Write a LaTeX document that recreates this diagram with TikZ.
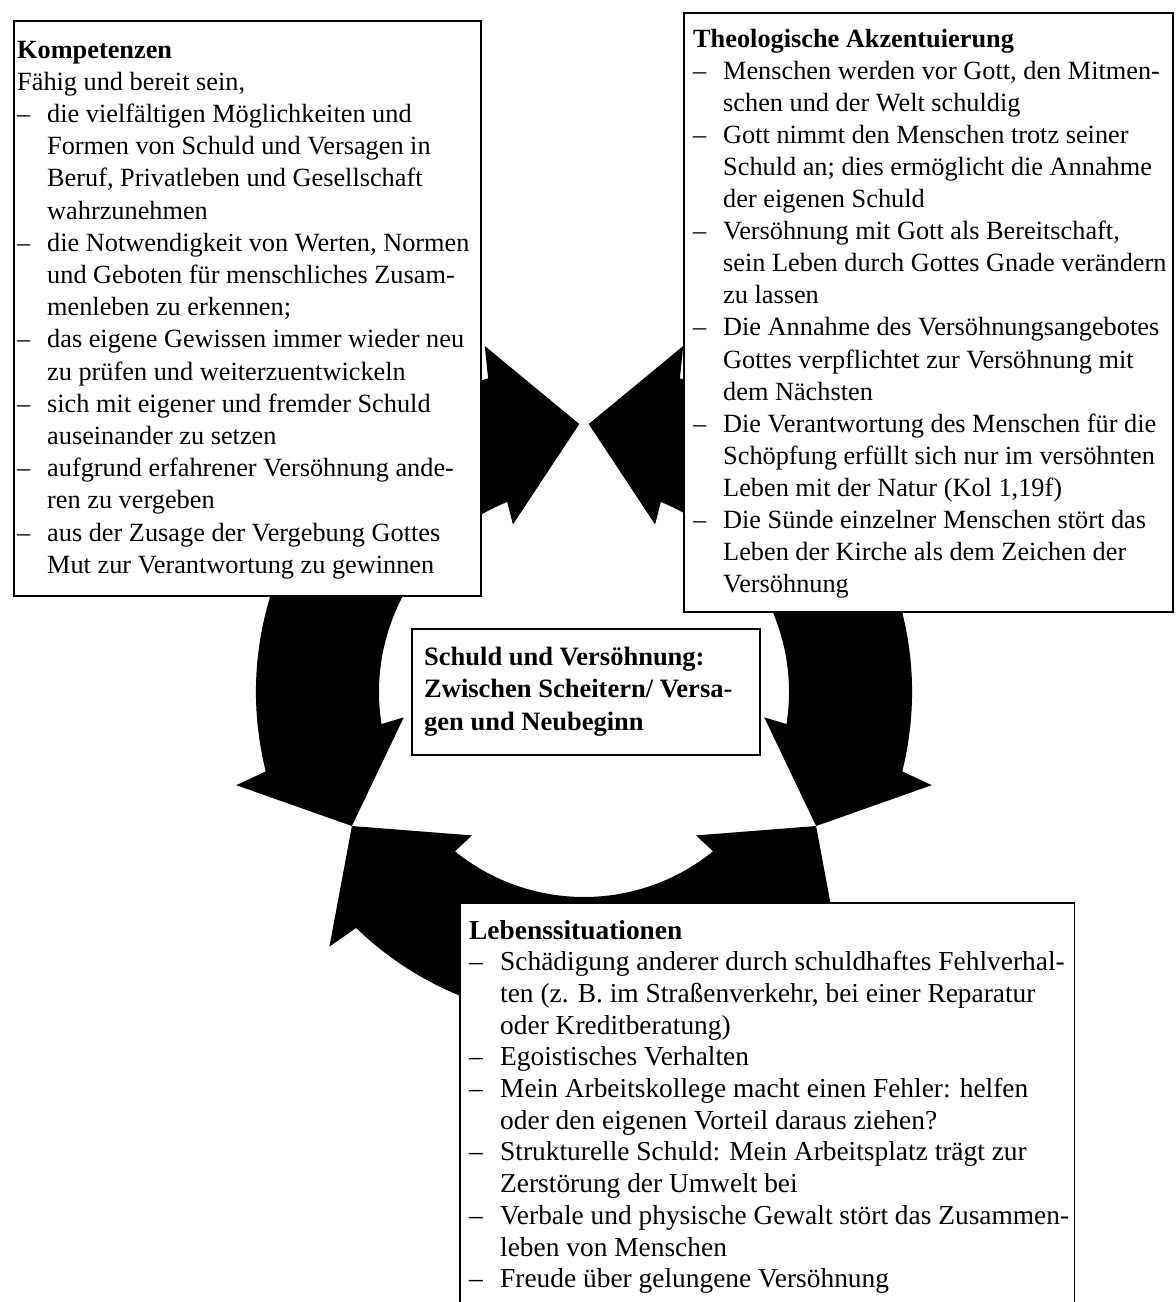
\documentclass[tikz,border=0pt]{standalone}
\usepackage{fontspec}
\setmainfont{Liberation Serif}
\newcommand\itdash{\makebox[30pt][l]{–}}
\newcommand\itind{\hspace*{30pt}}
\newcommand\lbdash{\makebox[31pt][l]{–}}
\newcommand\lbind{\hspace*{31pt}}
\begin{document}
\begin{tikzpicture}[x=1pt,y=1pt,
  ringarrow/.style={fill=black, draw=none},
  panel/.style={draw=black, line width=1.6pt, fill=white, inner sep=0pt, anchor=north west},
  txt/.style={anchor=base west, inner sep=0pt}
]
\useasboundingbox (0,0) rectangle (1176,-1302);
\fill[white] (0,0) rectangle (1176,-1302);

% ring of arrows around the centre (584,692)
\begin{scope}[shift={(584,-692)}]
  % left arc: tips at 91 and 210
  \path[ringarrow] (91:268) -- (106:360) -- (107:328)
     arc[start angle=107, end angle=194, radius=328]
     -- (195:360) -- (210:268) -- (188:182) -- (189:205)
     arc[start angle=189, end angle=112, radius=205]
     -- (113:182) -- cycle;
  % right arc: tips at 89 and -30
  \path[ringarrow] (89:268) -- (74:360) -- (73:328)
     arc[start angle=73, end angle=-14, radius=328]
     -- (-15:360) -- (-30:268) -- (-8:182) -- (-9:205)
     arc[start angle=-9, end angle=68, radius=205]
     -- (67:182) -- cycle;
  % bottom arc: tips at 210 and 330
  \path[ringarrow] (210:268) -- (225:360) -- (226:328)
     arc[start angle=226, end angle=314, radius=328]
     -- (315:360) -- (330:268) -- (308:182) -- (309:205)
     arc[start angle=309, end angle=231, radius=205]
     -- (232:182) -- cycle;
\end{scope}

% boxes
\node[panel, minimum width=467pt, minimum height=575pt] (komp) at (13,-20) {};
\node[panel, minimum width=489pt, minimum height=599pt] (theo) at (683,-12) {};
\node[panel, minimum width=348pt, minimum height=126pt] (mid) at (411,-628) {};
\node[panel, draw=none, minimum width=613pt, minimum height=402pt] (leb) at (460,-903) {};
\draw[line width=1.6pt] (leb.south west) -- (leb.north west) -- (leb.north east) -- (leb.south east);

% texts
\node[txt] (kompt) at (17,-58) {\parbox[t]{470pt}{\fontsize{26.3}{32.2}\selectfont\raggedright
\textbf{Kompetenzen}\\
Fähig und bereit sein,\\
\itdash die vielfältigen Möglichkeiten und\\
\itind Formen von Schuld und Versagen in\\
\itind Beruf, Privatleben und Gesellschaft\\
\itind wahrzunehmen\\
\itdash die Notwendigkeit von Werten, Normen\\
\itind und Geboten für menschliches Zusam-\\
\itind menleben zu erkennen;\\
\itdash das eigene Gewissen immer wieder neu\\
\itind zu prüfen und weiterzuentwickeln\\
\itdash sich mit eigener und fremder Schuld\\
\itind auseinander zu setzen\\
\itdash aufgrund erfahrener Versöhnung ande-\\
\itind ren zu vergeben\\
\itdash aus der Zusage der Vergebung Gottes\\
\itind Mut zur Verantwortung zu gewinnen}};

\node[txt] (theot) at (693,-47) {\parbox[t]{480pt}{\fontsize{26.3}{32.1}\selectfont\raggedright
\textbf{Theologische Akzentuierung}\\
\itdash Menschen werden vor Gott, den Mitmen-\\
\itind schen und der Welt schuldig\\
\itdash Gott nimmt den Menschen trotz seiner\\
\itind Schuld an; dies ermöglicht die Annahme\\
\itind der eigenen Schuld\\
\itdash Versöhnung mit Gott als Bereitschaft,\\
\itind sein Leben durch Gottes Gnade verändern\\
\itind zu lassen\\
\itdash Die Annahme des Versöhnungsangebotes\\
\itind Gottes verpflichtet zur Versöhnung mit\\
\itind dem Nächsten\\
\itdash Die Verantwortung des Menschen für die\\
\itind Schöpfung erfüllt sich nur im versöhnten\\
\itind Leben mit der Natur (Kol 1,19f)\\
\itdash Die Sünde einzelner Menschen stört das\\
\itind Leben der Kirche als dem Zeichen der\\
\itind Versöhnung}};

\node[txt] (midt) at (424,-665) {\parbox[t]{340pt}{\fontsize{26.5}{32.5}\selectfont\raggedright\bfseries
Schuld und Versöhnung:\\
Zwischen Scheitern/ Versa-\\
gen und Neubeginn}};

\node[txt] (lebt) at (469,-939) {\parbox[t]{600pt}{\fontsize{27.4}{31.7}\selectfont\raggedright
\textbf{Lebenssituationen}\\
\lbdash Schädigung anderer durch schuldhaftes Fehlverhal-\\
\lbind ten (z. B. im Straßenverkehr, bei einer Reparatur\\
\lbind oder Kreditberatung)\\
\lbdash Egoistisches Verhalten\\
\lbdash Mein Arbeitskollege macht einen Fehler: helfen\\
\lbind oder den eigenen Vorteil daraus ziehen?\\
\lbdash Strukturelle Schuld: Mein Arbeitsplatz trägt zur\\
\lbind Zerstörung der Umwelt bei\\
\lbdash Verbale und physische Gewalt stört das Zusammen-\\
\lbind leben von Menschen\\
\lbdash Freude über gelungene Versöhnung}};
\end{tikzpicture}
\end{document}
